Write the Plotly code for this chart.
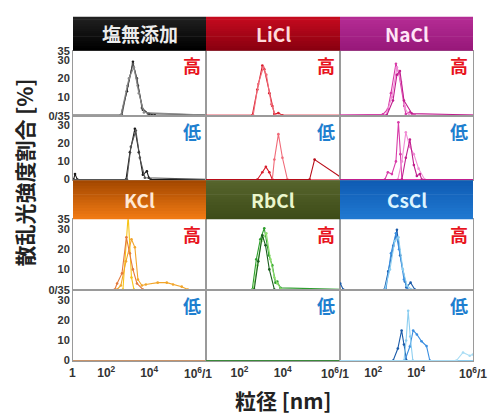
import plotly.graph_objects as go

# ---------------- data ----------------
salts = ["塩無添加", "LiCl", "NaCl", "KCl", "RbCl", "CsCl"]
conc_labels = ["高", "低"]
y_tickvals_high = [10, 20, 30, 35]
y_ticktext_high = ["10", "20", "30", "35"]
y_tickvals_low = [0, 10, 20, 30, 35]
y_ticktext_low = ["0", "10", "20", "30", "0/35"]
x_tickvals = [100, 10000]
x_ticktext = ["10<sup>2</sup>", "10<sup>4</sup>"]
x_edge_labels = ["1", "10<sup>6</sup>/1", "10<sup>6</sup>/1", "10<sup>6</sup>/1"]

# particle size [nm] and scattered-light intensity share [%]
none_hi_x = [[1, 480, 920, 1750, 3000, 5100, 9700, 18400, 1e7],
             [1, 540, 1000, 1750, 2700, 4600, 8700, 1e7],
             [1, 480, 1140, 1940, 3300, 5700, 1e7]]
none_hi_y = [[0, 0, 13, 29, 16, 3, 0.8, 0, 0],
             [0, 0, 16, 28, 20, 4, 1, 0],
             [0, 0, 20, 26, 12, 1.5, 0]]
none_lo_x = [[1, 3, 3.5, 4.5, 830, 1270, 2160, 3300, 5100, 7800, 9700, 12000, 1e7],
             [1, 920, 1400, 2400, 3700, 6300, 1e7]]
none_lo_y = [[0, 0, 3, 0, 0, 15, 28, 15, 2.6, 4.6, 1, 0, 0],
             [0, 0, 18, 27, 12, 1, 0]]

licl_hi_x = [[1, 390, 670, 1140, 1400, 2400, 3300, 4100, 6300, 9700, 1e7],
             [1, 430, 740, 1270, 1750, 2980, 4600, 1e7]]
licl_hi_y = [[0, 0, 14, 27, 25, 12, 5, 0.7, 1.2, 0, 0],
             [0, 0, 17, 26, 22, 6, 0, 0]]
licl_lo_x = [[1, 670, 1140, 1660, 2400, 3300, 1e7],
             [1, 3300, 4100, 6300, 9700, 16500, 1e7],
             [1, 174600, 298000, 4500000, 1e7]]
licl_lo_y = [[0, 0, 4, 7, 4, 0, 0],
             [0, 0, 11, 25, 12, 0, 0],
             [0, 0, 11, 1.5, 0]]

nacl_hi_x = [[1, 280, 480, 670, 1140, 1570, 2800, 3300, 5100, 8700, 1e7],
             [1, 390, 740, 1270, 2000, 3000, 4600, 1e7],
             [1, 430, 830, 1270, 1750, 2700, 6300, 1e7]]
nacl_hi_y = [[0, 0.5, 3.3, 12, 28, 22.5, 5, 0.7, 1.6, 0, 0],
             [0, 0, 10, 26, 18, 4, 0, 0],
             [0, 0, 8, 22, 24, 8, 1, 0]]
nacl_lo_x = [[1, 350, 480, 740, 1140, 1490, 1850, 2160, 1e7],
             [1, 1400, 2160, 3300, 5100, 7800, 13000, 25000, 1e7],
             [1, 2160, 3300, 5100, 7800, 10800, 14800, 18400, 1e7]]
nacl_lo_y = [[0, 0, 4, 3, 10, 31.5, 14, 0, 0],
             [0, 0, 10, 26, 18, 14, 6, 0, 0],
             [0, 0, 12, 22, 8, 2, 3, 0, 0]]

kcl_hi_x = [[1, 600, 1050, 1500, 1950, 1e7],
            [1, 320, 480, 830, 1500, 2160, 3000, 4600, 7000, 25000, 66500, 130000, 330000, 630000, 1e7],
            [1, 250, 320, 540, 870, 1270, 1750, 2700, 5100, 1e7]]
kcl_hi_y = [[0, 0, 37, 6, 0, 0],
            [0, 0, 2, 14, 25, 21, 5, 2, 2.5, 3.4, 3.4, 2.5, 1.4, 0, 0],
            [0, 0, 3, 8, 26, 18, 10, 3, 0, 0]]
kcl_lo_x = [[1, 1e7]]
kcl_lo_y = [[0, 0]]

rbcl_hi_x = [[1, 390, 600, 920, 1400, 2300, 3300, 4600, 5600, 7800, 1e7],
             [1, 430, 670, 1020, 1750, 2700, 4100, 5600, 8700, 1e7],
             [1, 480, 740, 1140, 1600, 2400, 4100, 1e7]]
rbcl_hi_y = [[0, 0, 15, 25, 30.5, 17, 12, 3.4, 4, 0.8, 0],
             [0, 0, 12, 24, 28, 15, 6, 3, 0, 0],
             [0, 0, 14, 27, 22, 10, 0, 0]]
rbcl_lo_x = [[1, 1e7]]
rbcl_lo_y = [[0, 0]]

cscl_hi_x = [[1, 2.9, 4, 330, 500, 850, 1270, 1800, 2980, 3500, 5500, 8700, 1e7],
             [1, 390, 670, 1140, 1600, 2700, 4100, 1e7],
             [1, 350, 600, 1000, 1500, 2400, 3700, 6000, 1e7]]
cscl_hi_y = [[0, 3, 0, 0, 9, 21.7, 29.7, 17, 4, 1, 3.4, 0, 0],
             [0, 0, 18, 28, 20, 5, 0, 0],
             [0, 0, 10, 24, 26, 10, 2, 0, 0]]
cscl_lo_x = [[1, 850, 1400, 2100, 2700, 3600, 1e7],
             [1, 2980, 5100, 7250, 10800, 17800, 30500, 43300, 1e7],
             [1, 2700, 3400, 4250, 5300, 7000, 1e7],
             [1, 757000, 1530000, 3150000, 4400000, 1e7]]
cscl_lo_y = [[0, 0, 6, 15, 8, 0, 0],
             [0, 0, 7, 15, 13, 9.6, 7.2, 0, 0],
             [0, 0, 10, 24.8, 12, 0, 0],
             [0, 0, 4, 2.4, 3, 3]]

panel_data = {
    (0, 0): (none_hi_x, none_hi_y), (0, 1): (none_lo_x, none_lo_y),
    (1, 0): (licl_hi_x, licl_hi_y), (1, 1): (licl_lo_x, licl_lo_y),
    (2, 0): (nacl_hi_x, nacl_hi_y), (2, 1): (nacl_lo_x, nacl_lo_y),
    (3, 0): (kcl_hi_x, kcl_hi_y), (3, 1): (kcl_lo_x, kcl_lo_y),
    (4, 0): (rbcl_hi_x, rbcl_hi_y), (4, 1): (rbcl_lo_x, rbcl_lo_y),
    (5, 0): (cscl_hi_x, cscl_hi_y), (5, 1): (cscl_lo_x, cscl_lo_y),
}

# ---------------- style ----------------
W, H = 494, 416
COLS = [(73, 206), (206, 340), (340, 473)]
ROWS = [(46, 113), (113, 179), (219, 292), (292, 365)]
HEADS = [(11, 46), (179, 219)]

series_colors = {
    0: ["#1a1a1a", "#555555", "#8a8a8a"],
    1: ["#d81e2c", "#f06a78", "#b80c18"],
    2: ["#d83ca8", "#f08cd4", "#c01e8e"],
    3: ["#f7c418", "#f2a52a", "#e47a3c"],
    4: ["#2e9e2e", "#8ede6e", "#1a5e1e"],
    5: ["#1a5aa8", "#3a8ee0", "#8ccef0", "#a8dcf4"],
}
low_zero_colors = {3: "#c8946a", 4: "#3a8a3a"}
head_style = [("#202020", "#000000", "#ececec"),
              ("#c40a1e", "#8a0010", "#ffdada"),
              ("#b42c94", "#98187a", "#ffe4f6"),
              ("#a44800", "#f07a14", "#ffe8d4"),
              ("#56642c", "#3e4c18", "#eaf6cc"),
              ("#0f5cb4", "#2078d0", "#dcf4ff")]
RED = "#e8141e"
BLUE = "#1f7fcf"
XTICKFONT = dict(family="Liberation Sans, Arial", size=12, color="#333333", weight="bold")
YTICKFONT = dict(family="Liberation Sans, Arial", size=11, color="#333333", weight="bold")
CJK = "Noto Sans CJK JP"


def hx(c):
    c = c.lstrip("#")
    return [int(c[i:i + 2], 16) for i in (0, 2, 4)]


def mix(a, b, t):
    A, B = hx(a), hx(b)
    return "rgb(%d,%d,%d)" % tuple(round(A[i] + (B[i] - A[i]) * t) for i in range(3))


fig = go.Figure()
layout = dict(width=W, height=H, margin=dict(l=0, r=0, t=0, b=0),
              paper_bgcolor="white", plot_bgcolor="white", showlegend=False)
annotations = []
shapes = []

for g in range(2):
    for c in range(3):
        s = g * 3 + c
        x0, x1 = COLS[c]
        for k in range(2):
            r = 2 * g + k
            n = r * 3 + c + 1
            sx = "" if n == 1 else str(n)
            y0, y1 = ROWS[r]
            layout["xaxis" + sx] = dict(
                type="log", range=[0.45, 6.65], domain=[x0 / W, x1 / W],
                anchor="y" + sx, showgrid=False, zeroline=False, showline=True,
                linecolor="#9a9a9a", linewidth=1, mirror=True, ticks="",
                tickvals=x_tickvals, ticktext=x_ticktext,
                showticklabels=(r == 3), tickfont=XTICKFONT)
            layout["yaxis" + sx] = dict(
                range=[-0.4, 35], domain=[1 - y1 / H, 1 - y0 / H],
                anchor="x" + sx, showgrid=False, zeroline=False, showline=True,
                linecolor="#9a9a9a", linewidth=1, mirror=True, ticks="",
                tickvals=y_tickvals_high if k == 0 else y_tickvals_low,
                ticktext=y_ticktext_high if k == 0 else y_ticktext_low,
                showticklabels=(c == 0), tickfont=YTICKFONT)
            xs, ys = panel_data[(s, k)]
            for j, (xv, yv) in enumerate(zip(xs, ys)):
                if k == 1 and s in low_zero_colors:
                    col = low_zero_colors[s]
                else:
                    col = series_colors[s][j % len(series_colors[s])]
                fig.add_trace(go.Scatter(
                    x=xv, y=yv, mode="lines+markers", xaxis="x" + sx, yaxis="y" + sx,
                    line=dict(color=col, width=1.1), marker=dict(color=col, size=2.6),
                    hoverinfo="skip", cliponaxis=True))
            # 高 / 低 label
            annotations.append(dict(
                text=conc_labels[k], xref="paper", yref="paper",
                x=(x1 - 3) / W, y=1 - (y0 + 15) / H, xanchor="right", yanchor="middle",
                showarrow=False, font=dict(family=CJK, size=18, weight="bold",
                                           color=RED if k == 0 else BLUE)))
        # header bar with vertical gradient
        hy0, hy1 = HEADS[g]
        top, bot, tcol = head_style[s]
        nstrip = 14
        for i in range(nstrip):
            a = hy0 + (hy1 - hy0) * i / nstrip
            b = hy0 + (hy1 - hy0) * (i + 1) / nstrip + 0.6
            shapes.append(dict(type="rect", xref="paper", yref="paper",
                               x0=x0 / W, x1=x1 / W, y0=1 - min(b, hy1) / H, y1=1 - a / H,
                               line=dict(width=0), fillcolor=mix(top, bot, i / (nstrip - 1))))
        annotations.append(dict(
            text=salts[s], xref="paper", yref="paper", x=(x0 + x1) / 2 / W,
            y=1 - (hy0 + hy1) / 2 / H, xanchor="center", yanchor="middle", showarrow=False,
            font=dict(family=CJK + ", Liberation Sans", size=19, weight="bold", color=tcol)))

# x edge labels
edge_x = [72, 198, 335, 473]
for ex, lab in zip(edge_x, x_edge_labels):
    annotations.append(dict(text=lab, xref="paper", yref="paper", x=ex / W, y=1 - 377 / H,
                            xanchor="center", yanchor="middle", showarrow=False, font=XTICKFONT))

# axis titles
annotations.append(dict(text="散乱光強度割合 [%]", xref="paper", yref="paper",
                        x=24 / W, y=1 - 171 / H, textangle=-90, xanchor="center",
                        yanchor="middle", showarrow=False,
                        font=dict(family=CJK, size=21, weight="bold", color="#222222")))
annotations.append(dict(text="粒径 [nm]", xref="paper", yref="paper",
                        x=283 / W, y=1 - 405 / H, xanchor="center", yanchor="middle",
                        showarrow=False,
                        font=dict(family=CJK, size=21, weight="bold", color="#222222")))

layout["annotations"] = annotations
layout["shapes"] = shapes
fig.update_layout(**layout)
fig.write_html("out.html")
